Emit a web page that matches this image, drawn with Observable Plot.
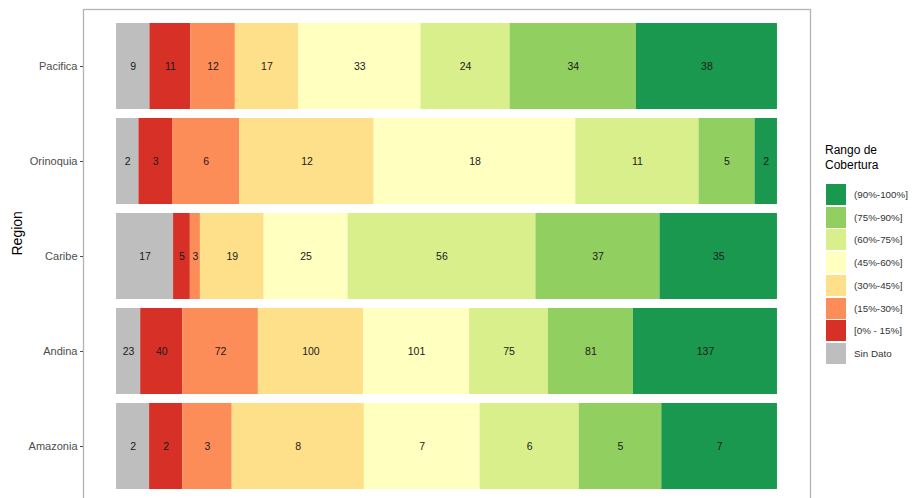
<!DOCTYPE html>
<html>
<head>
<meta charset="utf-8">
<script src="https://cdn.jsdelivr.net/npm/d3@7"></script>
<script src="https://cdn.jsdelivr.net/npm/@observablehq/plot@0.6"></script>
<style>
  html, body { margin: 0; padding: 0; overflow: hidden; background: #fff; }
  #wrap { position: relative; width: 919px; height: 498px; overflow: hidden; font-family: "Liberation Sans", Arial, sans-serif; }
  #legend { position: absolute; left: 825px; top: 143px; color: #000; }
  #legend .title { font-size: 12px; line-height: 15px; }
  #legend .row { position: absolute; left: 1px; height: 21px; width: 100px; }
  #legend .key { position: absolute; left: 0; top: 0; width: 20px; height: 21px; }
  #legend .lab { position: absolute; left: 28px; top: 0; line-height: 21px; font-size: 9.8px; color: #333; white-space: nowrap; }
</style>
</head>
<body>
<div id="wrap"><div id="chart"></div><div id="legend"></div></div>
<script>
const regions = ["Pacifica", "Orinoquia", "Caribe", "Andina", "Amazonia"];
const rangos = ["Sin Dato", "[0% - 15%]", "(15%-30%]", "(30%-45%]", "(45%-60%]", "(60%-75%]", "(75%-90%]", "(90%-100%]"];
const colores = ["#bebebe", "#d73027", "#fc8d59", "#fee08b", "#ffffbf", "#d9ef8b", "#91cf60", "#1a9850"];

const pacifica  = [9, 11, 12, 17, 33, 24, 34, 38];
const orinoquia = [2, 3, 6, 12, 18, 11, 5, 2];
const caribe    = [17, 5, 3, 19, 25, 56, 37, 35];
const andina    = [23, 40, 72, 100, 101, 75, 81, 137];
const amazonia  = [2, 2, 3, 8, 7, 6, 5, 7];

const series = {Pacifica: pacifica, Orinoquia: orinoquia, Caribe: caribe, Andina: andina, Amazonia: amazonia};
const data = [];
for (const r of regions) {
  series[r].forEach((v, i) => data.push({region: r, rango: rangos[i], value: v}));
}

const stackOpts = {x: "value", y: "region", offset: "normalize"};

const plot = Plot.plot({
  width: 919,
  height: 520,
  marginLeft: 83,
  marginRight: 109,
  marginTop: 9,
  marginBottom: 17,
  style: {fontFamily: "'Liberation Sans', Arial, sans-serif", fontSize: "11px", background: "#fff"},
  x: {domain: [-0.05, 1.05], axis: null},
  y: {domain: regions, paddingInner: 0.1, paddingOuter: 0.15, label: null},
  color: {domain: rangos, range: colores},
  marks: [
    Plot.barX(data, Plot.stackX({...stackOpts, fill: "rango"})),
    Plot.text(data, Plot.stackX({...stackOpts, text: "value", fill: "#1a1a1a", fontSize: 10.5})),
    Plot.frame({stroke: "#b3b3b3", strokeWidth: 1.3}),
    Plot.axisY({tickSize: 3, tickPadding: 3, fontSize: 11, color: "#4d4d4d", label: null}),
    Plot.text(["Region"], {frameAnchor: "left", dx: -66, dy: -1, rotate: -90, fontSize: 14, fill: "#000"})
  ]
});
document.getElementById("chart").appendChild(plot);

// legend (top-down order: highest range first)
const legend = document.getElementById("legend");
const title = document.createElement("div");
title.className = "title";
title.innerHTML = "Rango de<br>Cobertura";
legend.appendChild(title);
const order = rangos.slice().reverse();
const cols = colores.slice().reverse();
order.forEach((r, i) => {
  const row = document.createElement("div");
  row.className = "row";
  row.style.top = (41 + i * 22.7) + "px";
  const key = document.createElement("div");
  key.className = "key";
  key.style.background = cols[i];
  const lab = document.createElement("div");
  lab.className = "lab";
  lab.textContent = r;
  row.appendChild(key);
  row.appendChild(lab);
  legend.appendChild(row);
});
</script>
</body>
</html>
